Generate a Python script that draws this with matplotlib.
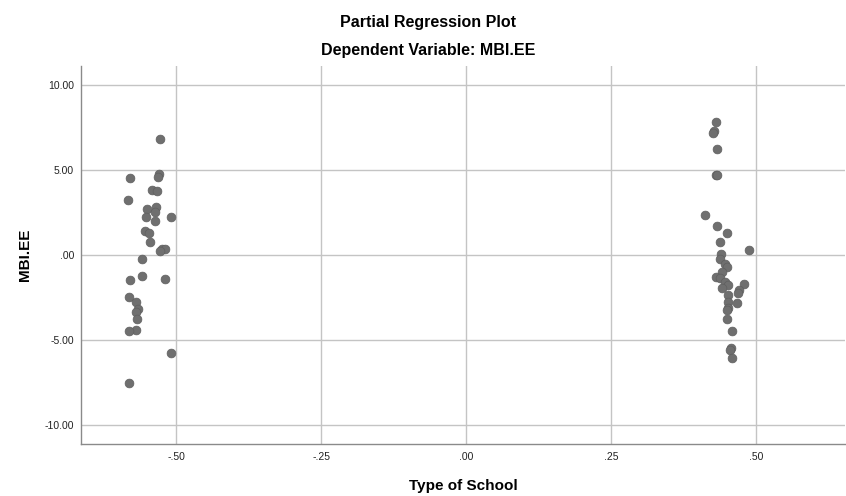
import matplotlib
matplotlib.use("Agg")
import matplotlib.pyplot as plt
from matplotlib.ticker import FixedLocator, FuncFormatter

plt.rcParams['font.family'] = ['Liberation Sans', 'DejaVu Sans']

# Partial residuals: Type of School (x) vs MBI.EE (y)
public_x = [-0.528, -0.529, -0.531, -0.579, -0.541, -0.533, -0.583, -0.534,
            -0.551, -0.537, -0.509, -0.552, -0.536, -0.553, -0.546, -0.545,
            -0.525, -0.519, -0.528, -0.559, -0.559, -0.519, -0.579, -0.581,
            -0.569, -0.566, -0.569, -0.568, -0.569, -0.581, -0.509, -0.581]
public_y = [6.81, 4.76, 4.61, 4.53, 3.82, 3.75, 3.24, 2.84,
            2.71, 2.53, 2.27, 2.25, 2.00, 1.41, 1.31, 0.75,
            0.39, 0.39, 0.25, -0.25, -1.24, -1.41, -1.47, -2.45,
            -2.78, -3.18, -3.33, -3.73, -4.37, -4.45, -5.75, -7.51]

private_x = [0.431, 0.428, 0.426, 0.432, 0.430, 0.433, 0.412, 0.432,
             0.449, 0.438, 0.487, 0.440, 0.437, 0.447, 0.450, 0.441,
             0.431, 0.438, 0.447, 0.451, 0.479, 0.441, 0.471, 0.468,
             0.452, 0.452, 0.467, 0.451, 0.450, 0.450, 0.458, 0.457,
             0.455, 0.459]
private_y = [7.84, 7.29, 7.19, 6.27, 4.71, 4.69, 2.35, 1.71,
             1.31, 0.75, 0.28, 0.06, -0.25, -0.49, -0.69, -0.98,
             -1.27, -1.37, -1.57, -1.73, -1.67, -1.92, -2.06, -2.25,
             -2.35, -2.75, -2.80, -3.08, -3.24, -3.73, -4.45, -5.43,
             -5.55, -6.04]

x_ticks = [-0.50, -0.25, 0.00, 0.25, 0.50]
y_ticks = [-10.0, -5.0, 0.0, 5.0, 10.0]


def spss_fmt(v, decimals):
    s = f"{v:.{decimals}f}"
    if s.startswith("0."):
        s = s[1:]
    elif s.startswith("-0."):
        s = "-" + s[2:]
    return s


fig = plt.figure(figsize=(8.46, 4.96), dpi=100)
ax = fig.add_axes([81 / 846, 1 - 444 / 496, (845 - 81) / 846, (444 - 66) / 496])

ax.scatter(public_x + private_x, public_y + private_y, s=40,
           color="#6f6f6f", edgecolors="#5f5f5f", linewidths=0.5, zorder=3)

ax.set_xlim(-0.664, 0.653)
ax.set_ylim(-11.1, 11.12)
ax.xaxis.set_major_locator(FixedLocator(x_ticks))
ax.yaxis.set_major_locator(FixedLocator(y_ticks))
ax.xaxis.set_major_formatter(FuncFormatter(lambda v, p: spss_fmt(v, 2)))
ax.yaxis.set_major_formatter(FuncFormatter(lambda v, p: spss_fmt(v, 2)))
ax.grid(True, color="#c4c4c4", linewidth=1.0, zorder=0)
ax.set_axisbelow(True)

for side in ("top", "right"):
    ax.spines[side].set_visible(False)
for side in ("left", "bottom"):
    ax.spines[side].set_color("#8a8a8a")
    ax.spines[side].set_linewidth(1.0)

ax.tick_params(length=0, labelsize=7.5, labelcolor="#222222")
ax.tick_params(axis="x", pad=6)
ax.tick_params(axis="y", pad=5)

ax.set_xlabel("Type of School", fontsize=11, fontweight="bold", labelpad=12)
ax.set_ylabel("MBI.EE", fontsize=11, fontweight="bold", labelpad=9)

fig.text(428 / 846, 1 - 22 / 496, "Partial Regression Plot", ha="center",
         va="center", fontsize=11.5, fontweight="bold")
fig.text(428 / 846, 1 - 51 / 496, "Dependent Variable: MBI.EE", ha="center",
         va="center", fontsize=11.5, fontweight="bold")

fig.savefig("out.png", dpi=100, facecolor="white")
